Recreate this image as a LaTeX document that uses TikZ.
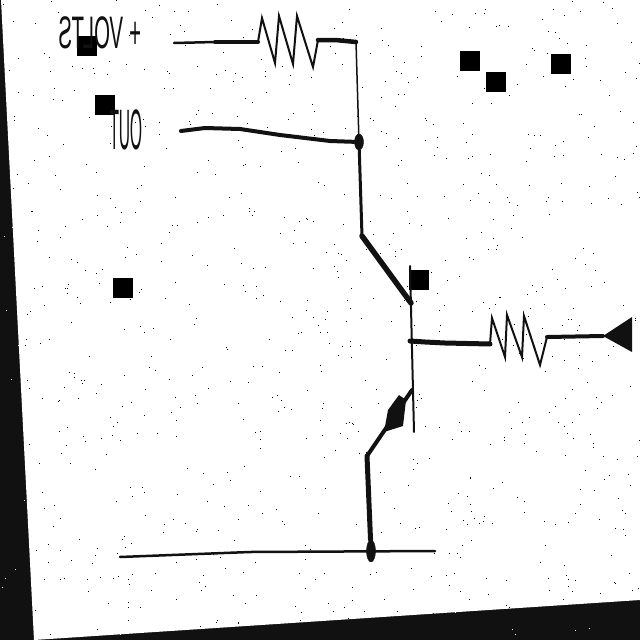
\documentclass[tikz,border=0pt]{standalone}
\usepackage{fontspec}
\setmainfont{Liberation Sans}
\definecolor{ink}{HTML}{111111}
\tikzset{
	lead/.style = {draw=ink, line width=3pt, line join=round, line cap=round},
	wire/.style = {draw=ink, line width=1.5pt, line join=round, line cap=round},
	zigzag/.style = {draw=ink, line width=2pt, line join=miter},
	junction/.style = {draw=ink, fill=ink, ellipse, inner sep=0pt},
	blackbox/.style = {fill=black, minimum size=20pt, inner sep=0pt},
	mirrored/.style = {xscale=-1, text=ink, inner sep=0pt, font=\fontsize{#1}{#1}\selectfont}
}
\usetikzlibrary{shapes.geometric}
\begin{document}
\begin{tikzpicture}[x=1pt, y=-1pt]
	\useasboundingbox (0,0) rectangle (640,640);
	\fill[ink] (0,0) rectangle (640,640);
	\pgfmathsetseed{4711}
	\foreach \i in {1,...,260}
		\fill[white] ({rnd*640},{rnd*640}) rectangle +(1,1);
	\fill[white] (1,0) -- (640,0) -- (640,600) -- (34,640) -- cycle;
	\begin{scope}
		\clip (1,0) -- (640,0) -- (640,600) -- (34,640) -- cycle;
		\pgfmathsetseed{1234}
		\foreach \i in {1,...,900}
			\fill[black] ({rnd*640},{rnd*640}) rectangle +(1,1);
	\end{scope}

	\node[blackbox] (boxa) at (87,46) {};
	\node[blackbox] (boxb) at (105,105) {};
	\node[blackbox] (boxc) at (123,288) {};
	\node[blackbox] (boxd) at (419,280) {};
	\node[blackbox] (boxe) at (470,61) {};
	\node[blackbox] (boxf) at (496,82) {};
	\node[blackbox] (boxg) at (561,64) {};

	\node[mirrored=24, yscale=1.9, xscale=0.85] (volts) at (100,33) {+ VOLTS};
	\node[mirrored=30, yscale=1.9, xscale=0.52] (out) at (126,130) {OUT};

	\coordinate (vin) at (174,43);
	\coordinate (rtopa) at (258,42);
	\coordinate (rtopb) at (318,40);
	\coordinate (corner) at (356,42);
	\coordinate (outin) at (181,131);
	\node[junction, minimum width=9pt, minimum height=16pt] (outdot) at (359,142) {};
	\coordinate (cola) at (362,236);
	\coordinate (colb) at (411,303);
	\coordinate (bartop) at (410,266);
	\coordinate (barbot) at (414,432);
	\coordinate (basein) at (410,341);
	\coordinate (rbasea) at (490,344);
	\coordinate (rbaseb) at (547,337);
	\coordinate (tip) at (603,336);
	\coordinate (emita) at (412,390);
	\coordinate (emitb) at (367,456);
	\node[junction, minimum width=9pt, minimum height=22pt] (gnddot) at (371,551) {};
	\coordinate (gnda) at (120,557);
	\coordinate (gndb) at (435,551);

	\draw[lead, line width=2.5pt] (vin) -- (215,42) -- (rtopa);
	\draw[lead, line width=4pt] (215,42) -- (rtopa);
	\draw[zigzag] (rtopa) -- (262,18) -- (275,63) -- (279,16) -- (293,64) -- (297,16) -- (313,67) -- (rtopb);
	\draw[lead, line width=4.5pt] (rtopb) -- (335,40) -- (corner);
	\draw[wire] (corner) -- (outdot);
	\draw[lead, line width=4pt] (outin) -- (205,128) -- (240,129) -- (280,135) -- (330,141) -- (outdot);
	\draw[lead, line width=3pt] (outdot) -- (cola);
	\draw[lead, line width=5.5pt] (cola) -- (colb);
	\draw[wire, line width=2pt] (bartop) -- (barbot);
	\draw[lead, line width=5pt] (basein) -- (425,342) -- (445,343) -- (rbasea);
	\draw[zigzag] (rbasea) -- (492,318) -- (505,357) -- (507,315) -- (522,357) -- (524,316) -- (540,365) -- (rbaseb);
	\draw[lead, line width=4pt] (rbaseb) -- (tip);
	\fill[ink] (tip) -- (632,317) -- (632,352) -- cycle;
	\draw[lead, line width=4pt] (emita) -- (emitb);
	\fill[ink] (399,395) -- (406,400) -- (403,426) -- (384,432) -- (388,410) -- cycle;
	\draw[lead, line width=5pt] (emitb) -- (gnddot);
	\draw[lead, line width=2.5pt] (gnda) -- (250,552) -- (gndb);
\end{tikzpicture}
\end{document}
